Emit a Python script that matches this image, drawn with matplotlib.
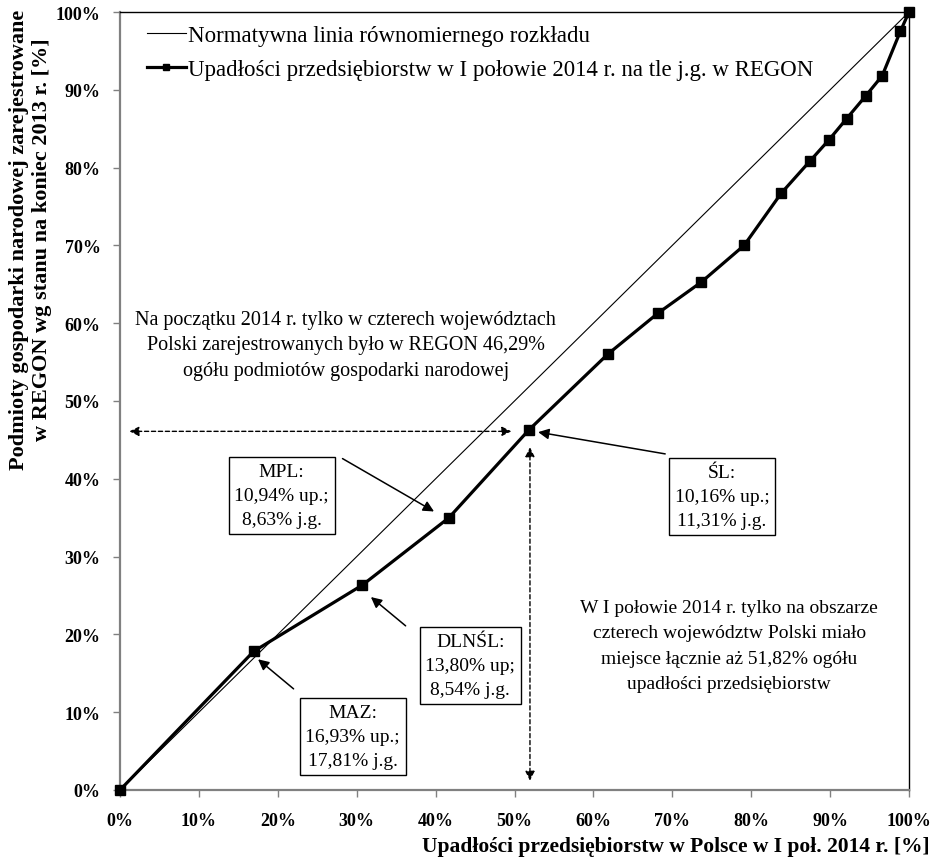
import matplotlib.pyplot as plt
from matplotlib.lines import Line2D

# cumulative shares [%]
upadlosci = [0, 16.93, 30.73, 41.67, 51.83, 61.8, 68.2, 73.7, 79.1, 83.8,
             87.5, 89.8, 92.1, 94.5, 96.6, 98.9, 100]
podmioty = [0, 17.81, 26.35, 34.98, 46.29, 56.0, 61.3, 65.3, 70.0, 76.7,
            80.9, 83.5, 86.3, 89.2, 91.8, 97.5, 100]
ticks = list(range(0, 101, 10))
tick_labels = [f"{t}%" for t in ticks]

legend_labels = ["Normatywna linia równomiernego rozkładu",
                 "Upadłości przedsiębiorstw w I połowie 2014 r. na tle j.g. w REGON"]

plt.rcParams['font.family'] = ['Liberation Serif', 'DejaVu Serif']

fig = plt.figure(figsize=(9.48, 8.62), dpi=100)
ax = fig.add_axes([120 / 948, 71 / 862, 789 / 948, 778 / 862])

ax.plot([0, 100], [0, 100], color='black', lw=0.8)
ax.plot(upadlosci, podmioty, color='black', lw=2.3, marker='s', markersize=7.5,
        clip_on=False, zorder=5)

ax.set_xlim(0, 100)
ax.set_ylim(0, 100)
ax.set_xticks(ticks)
ax.set_yticks(ticks)
ax.set_xticklabels(tick_labels, fontsize=13, fontweight='bold')
ax.set_yticklabels(tick_labels, fontsize=13, fontweight='bold')
ax.tick_params(direction='out', length=5, width=1, color='#808080')
ax.tick_params(axis='x', pad=11)
ax.tick_params(axis='y', pad=9)

for side in ['left', 'bottom']:
    ax.spines[side].set_color('#808080')
    ax.spines[side].set_linewidth(1.6)
for side in ['top', 'right']:
    ax.spines[side].set_color('black')
    ax.spines[side].set_linewidth(1.0)

handles = [Line2D([], [], color='black', lw=0.8),
           Line2D([], [], color='black', lw=2.3, marker='s', markersize=5)]
ax.legend(handles, legend_labels, loc='upper left', bbox_to_anchor=(0.034, 0.983),
          frameon=False, fontsize=16.5, handlelength=1.7, handletextpad=0.1,
          labelspacing=0.55, borderpad=0, borderaxespad=0)

fig.text(930 / 948, 1 - 847 / 862, "Upadłości przedsiębiorstw w Polsce w I poł. 2014 r. [%]",
         ha='right', va='center', fontsize=15.5, fontweight='bold')
fig.text(31 / 948, 1 - 240 / 862,
         "Podmioty gospodarki narodowej zarejestrowane\nw REGON wg stanu na koniec 2013 r. [%]",
         ha='center', va='center', rotation=90, fontsize=16, fontweight='bold',
         multialignment='center', linespacing=1.2)

txt = dict(ha='center', va='center', multialignment='center')
ax.text(28.6, 57.2, "Na początku 2014 r. tylko w czterech województach\n"
        "Polski zarejestrowanych było w REGON 46,29%\n"
        "ogółu podmiotów gospodarki narodowej", fontsize=14.5, linespacing=1.45, **txt)
ax.text(77.2, 18.6, "W I połowie 2014 r. tylko na obszarze\n"
        "czterech województw Polski miało\n"
        "miejsce łącznie aż 51,82% ogółu\n"
        "upadłości przedsiębiorstw", fontsize=14, linespacing=1.65, **txt)

box = dict(boxstyle='square,pad=0.3', fc='white', ec='black', lw=1)
boxtxt = dict(fontsize=14, linespacing=1.55, bbox=box, **txt)
ax.text(20.5, 37.85, "MPL:\n10,94% up.;\n8,63% j.g.", **boxtxt)
ax.text(44.4, 16.0, "DLNŚL:\n13,80% up;\n8,54% j.g.", **boxtxt)
ax.text(29.5, 6.9, "MAZ:\n16,93% up.;\n17,81% j.g.", **boxtxt)
ax.text(76.3, 37.7, "ŚL:\n10,16% up.;\n11,31% j.g.", **boxtxt)

arrow = dict(arrowstyle='-|>', color='black', lw=1.1, mutation_scale=16,
             shrinkA=0, shrinkB=0)
ax.annotate("", xy=(39.8, 35.8), xytext=(28.2, 42.6), arrowprops=arrow)
ax.annotate("", xy=(31.8, 24.8), xytext=(36.2, 21.1), arrowprops=arrow)
ax.annotate("", xy=(17.5, 16.8), xytext=(22.0, 13.0), arrowprops=arrow)
ax.annotate("", xy=(53.0, 46.0), xytext=(69.1, 43.2), arrowprops=arrow)

dashed = dict(arrowstyle='<|-|>', color='black', lw=1.0, ls=(0, (3, 2)), mutation_scale=14,
              shrinkA=0, shrinkB=0)
ax.annotate("", xy=(1.2, 46.1), xytext=(49.6, 46.1), arrowprops=dashed)
ax.annotate("", xy=(51.96, 1.2), xytext=(51.96, 44.05), arrowprops=dashed)

fig.savefig("out.png", dpi=100)
